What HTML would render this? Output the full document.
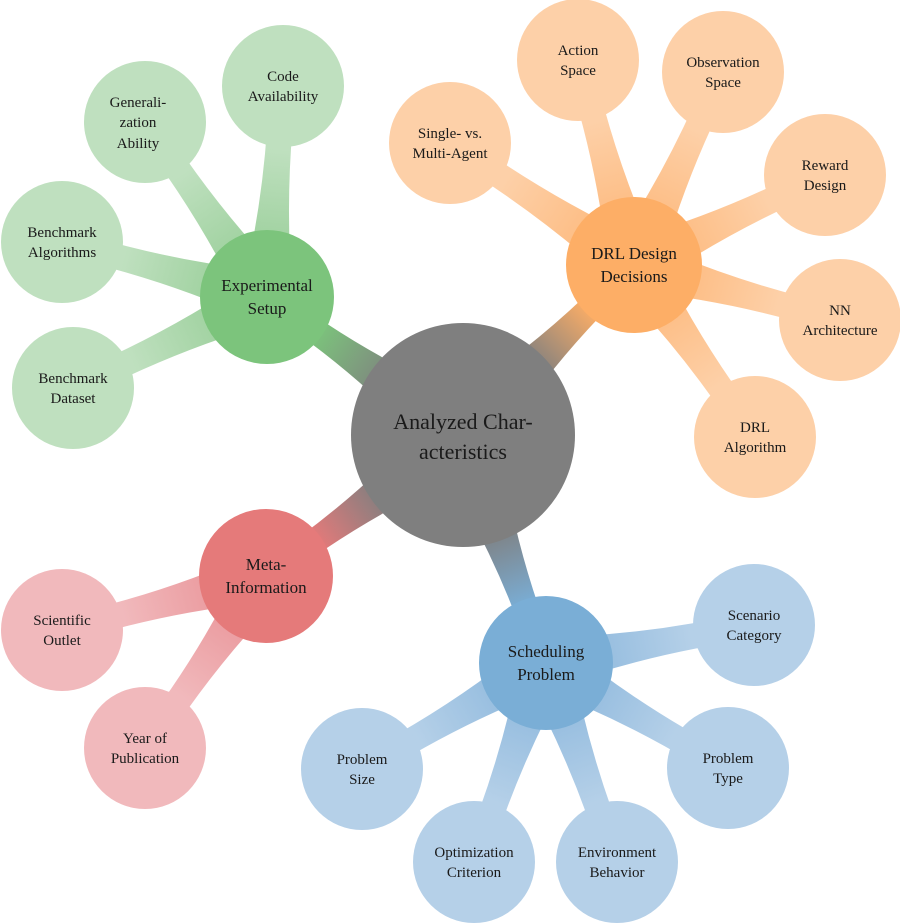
<!DOCTYPE html>
<html><head><meta charset="utf-8"><style>
html,body{margin:0;padding:0;background:#fff;}
svg{display:block;}
text{font-family:"Liberation Serif",serif;fill:#1a1a1a;text-anchor:middle;}
</style></head><body>
<svg id="s" width="900" height="924" viewBox="0 0 900 924" xmlns="http://www.w3.org/2000/svg">
<defs>
<linearGradient id="gG" gradientUnits="userSpaceOnUse" x1="463" y1="435" x2="267" y2="297"><stop offset="0.35" stop-color="#7f7f7f"/><stop offset="0.75" stop-color="#7cc47c"/></linearGradient>
<linearGradient id="gO" gradientUnits="userSpaceOnUse" x1="463" y1="435" x2="634" y2="265"><stop offset="0.4" stop-color="#7f7f7f"/><stop offset="0.75" stop-color="#fdae66"/></linearGradient>
<linearGradient id="gR" gradientUnits="userSpaceOnUse" x1="463" y1="435" x2="266" y2="576"><stop offset="0.4" stop-color="#7f7f7f"/><stop offset="0.75" stop-color="#e57a7a"/></linearGradient>
<linearGradient id="gB" gradientUnits="userSpaceOnUse" x1="463" y1="435" x2="546" y2="663"><stop offset="0.4" stop-color="#7f7f7f"/><stop offset="0.75" stop-color="#7aaed6"/></linearGradient>
</defs>
<g id="conn"></g>
<g fill="#bfe0bf">
<circle cx="283" cy="86" r="61"/><circle cx="145" cy="122" r="61"/><circle cx="62" cy="242" r="61"/><circle cx="73" cy="388" r="61"/></g>
<g fill="#fdd0a8">
<circle cx="578" cy="60" r="61"/><circle cx="723" cy="72" r="61"/><circle cx="450" cy="143" r="61"/><circle cx="825" cy="175" r="61"/><circle cx="840" cy="320" r="61"/><circle cx="755" cy="437" r="61"/></g>
<g fill="#f1b9bc"><circle cx="62" cy="630" r="61"/><circle cx="145" cy="748" r="61"/></g>
<g fill="#b5d0e8">
<circle cx="754" cy="625" r="61"/><circle cx="728" cy="768" r="61"/><circle cx="362" cy="769" r="61"/><circle cx="474" cy="862" r="61"/><circle cx="617" cy="862" r="61"/></g>
<circle cx="267" cy="297" r="67" fill="#7cc47c"/>
<circle cx="634" cy="265" r="68" fill="#fdae66"/>
<circle cx="266" cy="576" r="67" fill="#e57a7a"/>
<circle cx="546" cy="663" r="67" fill="#7aaed6"/>
<circle cx="463" cy="435" r="112" fill="#7f7f7f"/>
<g font-size="22"><text x="463" y="429">Analyzed Char-</text><text x="463" y="459">acteristics</text></g>
<g font-size="17">
<text x="267" y="291">Experimental</text><text x="267" y="314">Setup</text>
<text x="634" y="259">DRL Design</text><text x="634" y="282">Decisions</text>
<text x="266" y="570">Meta-</text><text x="266" y="593">Information</text>
<text x="546" y="657">Scheduling</text><text x="546" y="680">Problem</text>
</g>
<g font-size="15">
<text x="283" y="81">Code</text><text x="283" y="101">Availability</text>
<text x="138" y="107">Generali-</text><text x="138" y="127">zation</text><text x="138" y="148">Ability</text>
<text x="62" y="237">Benchmark</text><text x="62" y="257">Algorithms</text>
<text x="73" y="383">Benchmark</text><text x="73" y="403">Dataset</text>
<text x="578" y="55">Action</text><text x="578" y="75">Space</text>
<text x="723" y="67">Observation</text><text x="723" y="87">Space</text>
<text x="450" y="138">Single- vs.</text><text x="450" y="158">Multi-Agent</text>
<text x="825" y="170">Reward</text><text x="825" y="190">Design</text>
<text x="840" y="315">NN</text><text x="840" y="335">Architecture</text>
<text x="755" y="432">DRL</text><text x="755" y="452">Algorithm</text>
<text x="62" y="625">Scientific</text><text x="62" y="645">Outlet</text>
<text x="145" y="743">Year of</text><text x="145" y="763">Publication</text>
<text x="754" y="620">Scenario</text><text x="754" y="640">Category</text>
<text x="728" y="763">Problem</text><text x="728" y="783">Type</text>
<text x="362" y="764">Problem</text><text x="362" y="784">Size</text>
<text x="474" y="857">Optimization</text><text x="474" y="877">Criterion</text>
<text x="617" y="857">Environment</text><text x="617" y="877">Behavior</text>
</g>
</svg>
<script>
(function(){
var g=document.getElementById('conn'),NS='http://www.w3.org/2000/svg';
function tap(x1,y1,x2,y2,w1,w2,fill){
 var dx=x2-x1,dy=y2-y1,L=Math.sqrt(dx*dx+dy*dy),nx=-dy/L,ny=dx/L;
 var mx=x1+dx*0.5,my=y1+dy*0.5,wm=w2*0.6;
 var d='M'+(x1+nx*w1)+','+(y1+ny*w1)+' Q'+(mx+nx*wm)+','+(my+ny*wm)+' '+(x2+nx*w2)+','+(y2+ny*w2)+
 ' L'+(x2-nx*w2)+','+(y2-ny*w2)+' Q'+(mx-nx*wm)+','+(my-ny*wm)+' '+(x1-nx*w1)+','+(y1-ny*w1)+'Z';
 var p=document.createElementNS(NS,'path');p.setAttribute('d',d);p.setAttribute('fill',fill);g.appendChild(p);
}
tap(463,435,267,297,36,13,'url(#gG)');tap(463,435,634,265,36,13,'url(#gO)');
tap(463,435,266,576,36,13,'url(#gR)');tap(463,435,546,663,36,13,'url(#gB)');
var S=[
[267,297,'#bfe0bf',[[283,86],[145,122],[62,242],[73,388]]],
[634,265,'#fdd0a8',[[578,60],[723,72],[450,143],[825,175],[840,320],[755,437]]],
[266,576,'#f1b9bc',[[62,630],[145,748]]],
[546,663,'#b5d0e8',[[754,625],[728,768],[362,769],[474,862],[617,862]]]];
var mid={'#bfe0bf':'#a3d3a3','#fdd0a8':'#fdbf88','#f1b9bc':'#eb9ea2','#b5d0e8':'#99bfe0'};
var n=0;
S.forEach(function(s){s[3].forEach(function(l){
 var gid='t'+(n++);
 var lg=document.createElementNS(NS,'linearGradient');lg.setAttribute('id',gid);lg.setAttribute('gradientUnits','userSpaceOnUse');
 lg.setAttribute('x1',s[0]);lg.setAttribute('y1',s[1]);lg.setAttribute('x2',l[0]);lg.setAttribute('y2',l[1]);
 lg.innerHTML='<stop offset="0.3" stop-color="'+mid[s[2]]+'"/><stop offset="0.7" stop-color="'+s[2]+'"/>';
 document.querySelector('defs').appendChild(lg);
 tap(s[0],s[1],l[0],l[1],26,14,'url(#'+gid+')');
});});
})();
</script>
</body></html>
